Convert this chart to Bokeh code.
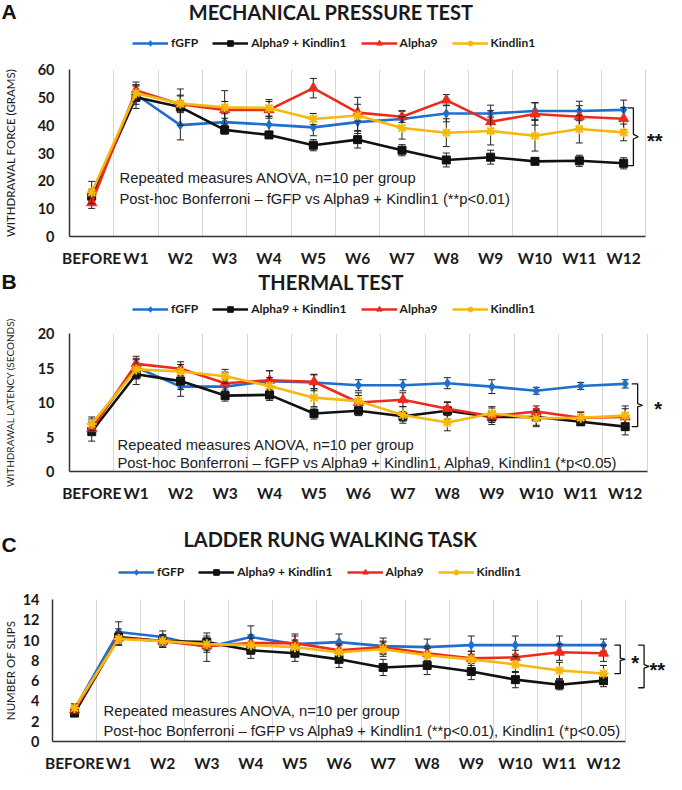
from bokeh.plotting import figure
from bokeh.layouts import column
from bokeh.models import Label, Legend, LegendItem, FixedTicker, Range1d
from bokeh.embed import file_html
from bokeh.resources import INLINE

# ---------------- data ----------------
CATEGORIES = ["BEFORE", "W1", "W2", "W3", "W4", "W5", "W6",
              "W7", "W8", "W9", "W10", "W11", "W12"]
SERIES = ["fGFP", "Alpha9 + Kindlin1", "Alpha9", "Kindlin1"]

# Panel A - mechanical pressure (grams)
mech_fgfp = [14.5, 51.0, 40.0, 41.1, 40.2, 39.2, 41.1, 42.2, 44.2, 44.2, 45.1, 45.1, 45.5]
mech_a9k = [14.5, 50.0, 46.5, 38.3, 36.5, 32.8, 34.8, 31.0, 27.5, 28.5, 27.0, 27.2, 26.3]
mech_a9 = [12.1, 52.5, 47.5, 45.5, 45.5, 53.3, 44.5, 43.0, 49.0, 41.2, 44.0, 43.0, 42.3]
mech_k1 = [15.8, 51.5, 47.8, 46.4, 46.2, 42.2, 43.5, 39.0, 37.3, 37.9, 36.2, 38.6, 37.4]
mech_fgfp_err = [2.5, 3.5, 5.3, 3.0, 3.0, 3.0, 3.0, 3.0, 3.0, 3.0, 3.0, 3.5, 3.5]
mech_a9k_err = [2.0, 4.0, 6.5, 1.5, 1.0, 2.0, 3.0, 2.0, 2.5, 2.5, 1.0, 2.0, 2.0]
mech_a9_err = [2.0, 3.0, 3.0, 3.0, 3.0, 3.5, 3.0, 2.0, 2.0, 4.0, 4.0, 4.0, 4.0]
mech_k1_err = [4.0, 3.0, 3.0, 6.0, 3.0, 2.0, 6.5, 4.0, 5.0, 5.0, 5.5, 5.0, 3.0]

# Panel B - thermal (seconds)
therm_fgfp = [6.4, 15.1, 12.3, 12.3, 13.1, 12.9, 12.5, 12.5, 12.8, 12.3, 11.7, 12.4, 12.7]
therm_a9k = [5.8, 14.1, 13.1, 11.0, 11.1, 8.4, 8.8, 8.0, 8.8, 7.9, 7.9, 7.2, 6.5]
therm_a9 = [6.2, 15.6, 14.9, 12.8, 13.2, 13.0, 10.0, 10.4, 9.1, 8.0, 8.7, 7.8, 7.9]
therm_k1 = [6.9, 14.8, 14.5, 13.8, 12.4, 10.7, 10.2, 8.2, 7.1, 8.4, 7.7, 7.8, 8.1]
therm_fgfp_err = [1.2, 1.3, 1.4, 1.2, 1.5, 1.2, 0.8, 0.8, 0.8, 1.0, 0.5, 0.5, 0.6]
therm_a9k_err = [1.4, 1.5, 1.2, 0.8, 0.8, 0.8, 0.7, 0.7, 1.2, 0.8, 1.2, 0.5, 1.2]
therm_a9_err = [1.0, 1.1, 1.0, 1.6, 1.4, 1.0, 1.0, 1.0, 1.0, 1.2, 0.8, 0.8, 1.2]
therm_k1_err = [1.0, 1.4, 1.0, 1.0, 1.2, 1.3, 1.2, 1.2, 1.2, 1.0, 1.2, 0.8, 1.4]

# Panel C - ladder rung (slips)
lad_fgfp = [3.2, 10.8, 10.3, 9.3, 10.3, 9.6, 9.8, 9.4, 9.3, 9.5, 9.5, 9.5, 9.5]
lad_a9k = [2.8, 10.3, 9.9, 9.8, 9.0, 8.7, 8.1, 7.3, 7.5, 6.9, 6.1, 5.6, 6.0]
lad_a9 = [3.1, 10.2, 9.9, 9.4, 9.7, 9.7, 9.0, 9.3, 8.7, 8.2, 8.3, 8.8, 8.7]
lad_k1 = [3.3, 10.1, 9.9, 9.6, 9.5, 9.3, 8.8, 9.1, 8.5, 8.1, 7.6, 7.0, 6.7]
lad_fgfp_err = [0.5, 1.0, 0.6, 1.4, 1.1, 1.0, 0.8, 0.8, 0.8, 0.9, 0.9, 0.9, 0.6]
lad_a9k_err = [0.3, 0.8, 0.6, 0.6, 0.8, 0.8, 0.8, 0.8, 0.9, 0.8, 0.8, 0.5, 0.6]
lad_a9_err = [0.4, 0.6, 0.6, 0.6, 0.8, 0.7, 0.6, 0.6, 0.7, 0.7, 0.7, 0.8, 0.8]
lad_k1_err = [0.4, 0.6, 0.6, 0.6, 0.7, 0.7, 0.7, 0.7, 0.7, 0.8, 0.8, 0.8, 0.8]

COLORS = ["#1f6fcc", "#111111", "#ee2a1c", "#f6b80c"]
MARKERS = ["diamond", "square", "triangle", "asterisk"]
MSIZES = [9, 8, 10, 10]

LATO = "Lato"
ARIAL = "Liberation Sans"
TXT = "#1a1a1a"
W = 666
NAN = float("nan")


def no_align(p):
    if "frame_align" in p.properties():
        p.frame_align = False


def draw_series(p, i, xs, y):
    col, mk, ms = COLORS[i], MARKERS[i], MSIZES[i]
    lr = p.line(xs, y, line_color=col, line_width=2.6)
    sr = p.scatter(xs, y, marker=mk, size=ms, fill_color=col, line_color=col,
                   line_width=2 if mk == "asterisk" else 1)
    return lr, sr


def make_header(letter, title, height, title_y, letter_y, title_x, legend_x, legend_y):
    h = figure(width=W, height=height, output_backend="svg", toolbar_location=None,
               x_range=Range1d(0, W), y_range=Range1d(0, height),
               x_axis_type=None, y_axis_type=None,
               min_border_left=0, min_border_right=0, min_border_top=0, min_border_bottom=0)
    no_align(h)
    h.outline_line_color = None
    h.grid.visible = False
    h.add_layout(Label(x=title_x, y=title_y, text=title, text_font=LATO,
                       text_font_style="bold", text_font_size="20px", text_color=TXT,
                       text_align="center", text_baseline="middle"))
    h.add_layout(Label(x=1, y=letter_y, text=letter, text_font=ARIAL,
                       text_font_style="bold", text_font_size="21px", text_color="#111111",
                       text_align="left", text_baseline="middle"))
    items = []
    for i, name in enumerate(SERIES):
        lr, sr = draw_series(h, i, [NAN], [NAN])   # legend swatches only
        items.append(LegendItem(label=name, renderers=[lr, sr]))
    leg = Legend(items=items, orientation="horizontal", location=(legend_x, legend_y),
                 glyph_width=36, glyph_height=14, label_standoff=3, spacing=14,
                 padding=0, margin=0, border_line_color=None, background_fill_alpha=0,
                 label_text_font=LATO, label_text_font_size="12px",
                 label_text_font_style="bold",
                 label_text_color=TXT, label_height=14)
    h.add_layout(leg, "center")
    return h


def make_panel(ylabel, ymax, ystep, vals, errs, notes, brackets, top, frame_h, bottom,
               left, px_per_unit, ylab_standoff, tick_standoff, ylab_size):
    height = top + frame_h + bottom
    x_end = -0.5 + (W - left) / px_per_unit
    p = figure(width=W, height=height, output_backend="svg", toolbar_location=None,
               x_range=Range1d(-0.5, x_end), y_range=Range1d(0, ymax),
               min_border_left=left, min_border_right=0,
               min_border_top=top, min_border_bottom=bottom)
    no_align(p)
    p.outline_line_color = None

    xs = list(range(len(CATEGORIES)))
    xa = p.xaxis[0]
    xa.ticker = FixedTicker(ticks=xs)
    xa.major_label_overrides = {i: c for i, c in enumerate(CATEGORIES)}
    xa.bounds = (-0.5, len(CATEGORIES) - 0.5)
    xa.major_tick_line_color = None
    xa.minor_tick_line_color = None
    xa.axis_line_color = "#333333"
    xa.axis_line_width = 1.5
    xa.major_label_text_font = LATO
    xa.major_label_text_font_style = "bold"
    xa.major_label_text_font_size = "15.5px"
    xa.major_label_text_color = TXT
    xa.major_label_standoff = 6

    ya = p.yaxis[0]
    ya.ticker = FixedTicker(ticks=list(range(0, ymax + 1, ystep)))
    ya.major_tick_line_color = None
    ya.minor_tick_line_color = None
    ya.axis_line_color = "#333333"
    ya.axis_line_width = 1.5
    ya.major_label_text_font = LATO
    ya.major_label_text_font_style = "bold"
    ya.major_label_text_font_size = "14.5px"
    ya.major_label_text_color = TXT
    ya.major_label_standoff = tick_standoff
    ya.axis_label = ylabel
    ya.axis_label_text_font = LATO
    ya.axis_label_text_font_style = "normal"
    ya.axis_label_text_font_size = ylab_size
    ya.axis_label_text_color = TXT
    ya.axis_label_standoff = ylab_standoff

    p.ygrid.visible = False
    p.xgrid.ticker = FixedTicker(ticks=[i + 0.5 for i in xs])
    p.xgrid.grid_line_color = "#d6d6d6"
    p.xgrid.grid_line_width = 1

    for i in range(len(SERIES)):
        y, e = vals[i], errs[i]
        lo = [a - b for a, b in zip(y, e)]
        hi = [a + b for a, b in zip(y, e)]
        col = COLORS[i]
        p.line(xs, y, line_color=col, line_width=2.6)
        p.segment(x0=xs, y0=lo, x1=xs, y1=hi, line_color="#222222", line_width=1)
        p.scatter(xs + xs, lo + hi, marker="dash", size=7, line_color="#222222", line_width=1)
        p.scatter(xs, y, marker=MARKERS[i], size=MSIZES[i], fill_color=col, line_color=col,
                  line_width=2 if MARKERS[i] == "asterisk" else 1)

    nx, ny1, ny2 = notes[0]
    for txt, yy in zip(notes[1], (ny1, ny2)):
        p.add_layout(Label(x=nx, y=yy, x_units="screen", y_units="screen",
                           text=txt, text_font=ARIAL, text_font_size="14.8px",
                           text_color="#202020", text_align="left",
                           text_baseline="middle"))

    for (xb, top_v, bot_v, star, xs_star) in brackets:
        w = 6.0 / px_per_unit
        tip = 5.0 / px_per_unit
        mid = (top_v + bot_v) / 2.0
        hh = (top_v - bot_v) * 0.04
        bx = [xb - w, xb, xb, xb + tip, xb, xb, xb - w]
        by = [top_v, top_v, mid + hh, mid, mid - hh, bot_v, bot_v]
        p.line(bx, by, line_color="#111111", line_width=1.3)
        p.add_layout(Label(x=xs_star, y=mid, text=star, text_font=ARIAL,
                           text_font_style="bold", text_font_size="20px",
                           text_color="#111111", text_align="center",
                           text_baseline="middle", y_offset=-4))
    return p


hA = make_header("A", "MECHANICAL PRESSURE TEST", 54, title_y=43, letter_y=43,
                 title_x=331, legend_x=132, legend_y=4)
pA = make_panel(
    "WITHDRAWAL FORCE (GRAMS)", 60, 10,
    [mech_fgfp, mech_a9k, mech_a9, mech_k1],
    [mech_fgfp_err, mech_a9k_err, mech_a9_err, mech_k1_err],
    ((50, 59, 38), ["Repeated measures ANOVA, n=10 per group",
                    "Post-hoc Bonferroni \u2013 fGFP vs Alpha9 + Kindlin1 (**p<0.01)"]),
    [(12.22, mech_fgfp[-1] + 0.7, mech_a9k[-1] - 0.8, "**", 12.7)],
    top=15, frame_h=176, bottom=24, left=60, px_per_unit=45.0,
    ylab_standoff=18, tick_standoff=9, ylab_size="11.5px")

hB = make_header("B", "THERMAL TEST", 47, title_y=35, letter_y=35,
                 title_x=331, legend_x=132, legend_y=0)
pB = make_panel(
    "WITHDRAWAL LATENCY (SECONDS)", 20, 5,
    [therm_fgfp, therm_a9k, therm_a9, therm_k1],
    [therm_fgfp_err, therm_a9k_err, therm_a9_err, therm_k1_err],
    ((48, 27, 9), ["Repeated measures ANOVA, n=10 per group",
                   "Post-hoc Bonferroni \u2013 fGFP vs Alpha9 + Kindlin1, Alpha9, Kindlin1 (*p<0.05)"]),
    [(12.28, therm_fgfp[-1], therm_a9k[-1], "*", 12.74)],
    top=17, frame_h=147, bottom=24, left=59, px_per_unit=45.2,
    ylab_standoff=19, tick_standoff=9, ylab_size="10px")

hC = make_header("C", "LADDER RUNG WALKING TASK", 85, title_y=51, letter_y=45,
                 title_x=330, legend_x=118, legend_y=10)
pC = make_panel(
    "NUMBER OF SLIPS", 14, 2,
    [lad_fgfp, lad_a9k, lad_a9, lad_k1],
    [lad_fgfp_err, lad_a9k_err, lad_a9_err, lad_k1_err],
    ((51, 31, 11), ["Repeated measures ANOVA, n=10 per group",
                    "Post-hoc Bonferroni \u2013 fGFP vs Alpha9 + Kindlin1 (**p<0.01), Kindlin1 (*p<0.05)"]),
    [(12.38, lad_fgfp[-1], lad_k1[-1], "*", 12.72),
     (12.92, lad_fgfp[-1], lad_a9k[-2] - 0.3, "**", 13.22)],
    top=10, frame_h=152, bottom=23, left=42, px_per_unit=44.8,
    ylab_standoff=3, tick_standoff=7, ylab_size="11.5px")

layout = column(hA, pA, hB, pB, hC, pC, spacing=0)
open("out.html", "w").write(file_html(layout, INLINE))
